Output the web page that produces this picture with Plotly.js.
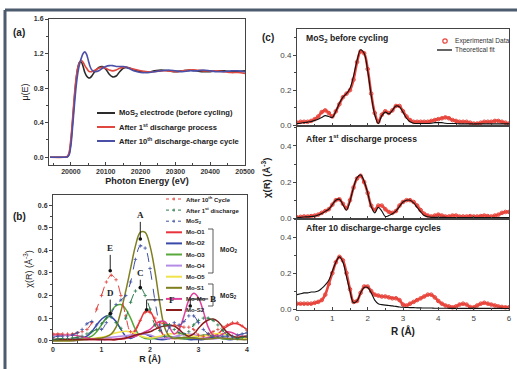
<!DOCTYPE html>
<html><head><meta charset="utf-8">
<script src="https://cdn.plot.ly/plotly-3.0.1.min.js"></script>
<style>html,body{margin:0;padding:0;background:#fff}#chart{width:517px;height:369px}</style>
</head><body><div id="chart"></div>
<script>
// ---------- Panel (a): XANES ----------
const energy = [19940,19980,19990,19995,20000,20005,20010,20015,20020,20025,20030,20035,20040,20045,20050,20055,20060,20070,20080,20090,20100,20110,20120,20130,20140,20150,20160,20170,20180,20200,20220,20240,20260,20280,20300,20320,20340,20360,20380,20400,20420,20440,20460,20480,20500];
const muMoS2 = [0,0,0.005,0.04,0.18,0.42,0.68,0.9,1.04,1.1,1.1,1.05,0.98,0.94,0.92,0.92,0.94,1.0,1.04,1.05,1.02,0.96,0.93,0.94,0.99,1.03,1.04,1.03,1.01,0.99,0.98,1.0,1.01,1.0,0.99,1.0,1.01,1.0,0.99,0.99,1.0,1.0,0.99,0.99,1.0];
const mu1st  = [0,0,0.01,0.06,0.22,0.46,0.72,0.92,1.04,1.1,1.12,1.1,1.06,1.03,1.0,0.99,0.99,1.01,1.03,1.04,1.03,1.01,1.0,1.01,1.03,1.04,1.04,1.03,1.02,1.0,0.99,0.99,1.0,1.0,0.99,1.0,1.01,1.01,1.0,1.0,1.0,0.99,0.98,0.98,0.97];
const mu10th = [0,0,0.005,0.03,0.14,0.36,0.6,0.82,0.98,1.08,1.15,1.2,1.22,1.19,1.12,1.05,1.01,0.99,1.0,1.03,1.05,1.06,1.06,1.05,1.05,1.05,1.04,1.02,1.0,0.98,0.98,0.99,1.0,1.01,1.0,0.99,1.0,1.0,1.01,1.0,0.99,0.99,1.0,1.0,0.99];
const legendA = ['MoS<sub>2</sub> electrode (before cycling)','After 1<sup>st</sup> discharge process','After 10<sup>th</sup> discharge-charge cycle'];

// ---------- R grid (panels b and c) ----------
const rGrid = [0,0.1,0.2,0.3,0.4,0.5,0.6,0.7,0.8,0.9,1.0,1.1,1.2,1.3,1.4,1.5,1.6,1.7,1.8,1.9,2.0,2.1,2.2,2.3,2.4,2.5,2.6,2.7,2.8,2.9,3.0,3.1,3.2,3.3,3.4,3.5,3.6,3.7,3.8,3.9,4.0,4.1,4.2,4.3,4.4,4.5,4.6,4.7,4.8,4.9,5.0,5.1,5.2,5.3,5.4,5.5,5.6,5.7,5.8,5.9,6.0];

// ---------- Panel (c): experimental data and fits ----------
const expMoS2 = [0.015,0.02,0.02,0.02,0.025,0.035,0.05,0.075,0.085,0.07, 0.05,0.08,0.12,0.16,0.18,0.2,0.26,0.36,0.42,0.41, 0.32,0.18,0.07,0.02,0.06,0.08,0.07,0.085,0.11,0.11, 0.08,0.05,0.03,0.02,0.02,0.02,0.02,0.02,0.025,0.03, 0.035,0.04,0.045,0.04,0.03,0.025,0.02,0.02,0.02,0.015, 0.01,0.01,0.015,0.02,0.02,0.02,0.025,0.025,0.02,0.015, 0.01];
const fitMoS2 = [0.01,0.012,0.015,0.018,0.022,0.028,0.035,0.045,0.055,0.05, 0.045,0.08,0.125,0.16,0.18,0.21,0.28,0.37,0.43,0.41, 0.31,0.17,0.06,0.01,0.055,0.075,0.065,0.085,0.11,0.105, 0.075,0.04,0.02,0.012,0.01,0.01,0.01,0.01,0.012,0.015, 0.015,0.015,0.012,0.01,0.01,0.01,0.008,0.008,0.008,0.008, 0.008,0.008,0.008,0.008,0.008,0.008,0.008,0.008,0.008,0.008, 0.008];
const exp1st = [0.005,0.008,0.01,0.01,0.012,0.015,0.02,0.03,0.04,0.05, 0.075,0.1,0.105,0.08,0.055,0.1,0.17,0.22,0.235,0.2, 0.14,0.07,0.045,0.07,0.07,0.05,0.035,0.03,0.04,0.07, 0.09,0.1,0.1,0.09,0.07,0.045,0.025,0.015,0.01,0.015, 0.02,0.015,0.01,0.01,0.015,0.015,0.01,0.01,0.01,0.012, 0.01,0.01,0.012,0.015,0.012,0.01,0.015,0.02,0.03,0.035, 0.035];
const fit1st = [0.003,0.005,0.007,0.008,0.01,0.012,0.018,0.027,0.038,0.05, 0.075,0.1,0.105,0.075,0.045,0.095,0.17,0.225,0.24,0.205, 0.14,0.065,0.03,0.06,0.04,0.01,0.015,0.025,0.04,0.065, 0.09,0.1,0.1,0.085,0.06,0.035,0.015,0.008,0.005,0.005, 0.005,0.005,0.005,0.004,0.004,0.004,0.004,0.004,0.004,0.004, 0.004,0.004,0.004,0.004,0.004,0.004,0.004,0.004,0.004,0.004, 0.004];
const exp10th = [0.03,0.03,0.03,0.03,0.03,0.035,0.04,0.05,0.08,0.14, 0.2,0.26,0.29,0.27,0.2,0.11,0.04,0.045,0.09,0.125, 0.125,0.1,0.08,0.075,0.07,0.07,0.065,0.06,0.06,0.05, 0.025,0.02,0.03,0.04,0.05,0.06,0.07,0.08,0.08,0.065, 0.045,0.03,0.02,0.015,0.01,0.015,0.025,0.03,0.025,0.012, 0.01,0.02,0.03,0.035,0.03,0.025,0.02,0.015,0.012,0.01, 0.01];
const fit10th = [0.08,0.085,0.09,0.09,0.095,0.095,0.1,0.115,0.135,0.16, 0.21,0.26,0.29,0.26,0.18,0.1,0.035,0.045,0.09,0.12, 0.12,0.09,0.05,0.03,0.025,0.022,0.02,0.018,0.015,0.012, 0.01,0.009,0.008,0.008,0.007,0.007,0.006,0.006,0.006,0.005, 0.005,0.005,0.005,0.004,0.004,0.004,0.004,0.004,0.004,0.004, 0.004,0.004,0.004,0.004,0.004,0.004,0.004,0.004,0.004,0.003, 0.003];
const panelCLabels = ['MoS<sub>2</sub> before cycling','After 1<sup>st</sup> discharge process','After 10 discharge-charge cycles'];

// ---------- Panel (b): fitting components (R = 0..4) ----------
const moO1 = [0.005,0.005,0.005,0.005,0.005,0.005,0.005,0.005,0.005,0.005, 0.005,0.005,0.005,0.005,0.008,0.01,0.02,0.05,0.09,0.13, 0.13,0.09,0.05,0.02,0.01,0.01,0.01,0.01,0.01,0.01, 0.01,0.01,0.015,0.02,0.03,0.05,0.065,0.075,0.075,0.065, 0.05];
const moO2 = [0,0,0.002,0.004,0.006,0.008,0.012,0.02,0.04,0.07, 0.095,0.11,0.105,0.085,0.05,0.02,0.01,0.02,0.03,0.03, 0.02,0.01,0.005,0.005,0.01,0.015,0.015,0.01,0.005,0.005, 0.005,0.005,0.01,0.015,0.015,0.01,0.005,0.005,0.01,0.015, 0.015];
const moO3 = [0,0,0,0,0.002,0.004,0.008,0.012,0.02,0.04, 0.07,0.1,0.13,0.155,0.16,0.14,0.1,0.05,0.02,0.01, 0.008,0.01,0.015,0.02,0.02,0.015,0.01,0.008,0.01,0.015, 0.02,0.025,0.025,0.02,0.012,0.008,0.008,0.01,0.012,0.01, 0.008];
const moO4 = [0,0,0,0,0,0.002,0.004,0.006,0.008,0.01, 0.012,0.014,0.016,0.018,0.02,0.022,0.025,0.028,0.03,0.03, 0.025,0.018,0.012,0.01,0.012,0.018,0.024,0.028,0.03,0.028, 0.022,0.015,0.01,0.008,0.01,0.012,0.012,0.01,0.008,0.006, 0.005];
const moO5 = [0,0,0,0,0.002,0.004,0.006,0.008,0.01,0.012, 0.015,0.02,0.028,0.035,0.04,0.042,0.04,0.032,0.022,0.015, 0.012,0.015,0.02,0.025,0.03,0.032,0.032,0.03,0.025,0.02, 0.018,0.02,0.025,0.03,0.032,0.03,0.025,0.02,0.015,0.012, 0.01];
const moS1 = [0,0,0,0,0,0.002,0.004,0.006,0.008,0.01, 0.012,0.018,0.03,0.06,0.13,0.22,0.32,0.42,0.48,0.48, 0.42,0.31,0.17,0.06,0.02,0.01,0.012,0.015,0.015,0.012, 0.01,0.008,0.008,0.01,0.012,0.012,0.01,0.008,0.006,0.005, 0.005];
const moMo = [0.025,0.025,0.025,0.025,0.025,0.022,0.018,0.012,0.008,0.005, 0.005,0.005,0.006,0.008,0.01,0.012,0.015,0.02,0.03,0.04, 0.05,0.07,0.085,0.085,0.06,0.03,0.05,0.11,0.18,0.21, 0.19,0.13,0.06,0.025,0.02,0.03,0.04,0.035,0.025,0.02, 0.02];
const moS2 = [0.005,0.005,0.005,0.005,0.005,0.005,0.005,0.005,0.005,0.005, 0.005,0.005,0.005,0.005,0.008,0.012,0.018,0.025,0.03,0.035, 0.04,0.05,0.06,0.065,0.068,0.065,0.05,0.03,0.02,0.03, 0.055,0.078,0.092,0.096,0.085,0.06,0.035,0.02,0.015,0.018, 0.02];
const legendB = ['After 10<sup>th</sup> Cycle','After 1<sup>st</sup> discharge','MoS<sub>2</sub>','Mo-O1','Mo-O2','Mo-O3','Mo-O4','Mo-O5','Mo-S1','Mo-Mo','Mo-S2'];

// ---------- helpers ----------
const W = 517, H = 369;
const px = v => v / W, py = v => 1 - v / H;
const shapes = [], annotations = [];
const FONT = 'Liberation Sans, Arial, sans-serif';
function pline(x0, y0, x1, y1, color, width, dash) {
  shapes.push({type:'line', xref:'paper', yref:'paper', x0:px(x0), y0:py(y0), x1:px(x1), y1:py(y1), line:{color, width, dash: dash || 'solid'}});
}
function ptext(x, y, text, size, opts) {
  annotations.push(Object.assign({xref:'paper', yref:'paper', x:px(x), y:py(y), text, showarrow:false, xanchor:'left', yanchor:'middle', font:{family:FONT, size, color:'#222'}}, opts || {}));
}

const traces = [];
// Panel a traces
const colA = ['#2b2b2b', '#e0483f', '#4a50a8'];
[muMoS2, mu1st, mu10th].forEach((ys, i) => {
  traces.push({x: energy, y: ys, xaxis:'x', yaxis:'y', mode:'lines', line:{color: colA[i], width:1.6, shape:'spline', smoothing:0.8}, hoverinfo:'skip'});
});
legendA.forEach((t, i) => {
  const yy = 113 + i * 14;
  pline(97, yy, 115, yy, colA[i], 2);
  ptext(117, yy, '<b>' + t + '</b>', 7.6);
});

// Panel b traces
const rB = rGrid.slice(0, 41);
const compCols = ['#e8323c', '#3949a8', '#58a83c', '#b48ce6', '#f0e24a', '#7f7f1f', '#e0409a', '#8b1c1c'];
const comps = [moO1, moO2, moO3, moO4, moO5, moS1, moMo, moS2];
comps.forEach((ys, i) => {
  traces.push({x: rB, y: ys, xaxis:'x2', yaxis:'y2', mode:'lines', line:{color: compCols[i], width:1.5, shape:'spline'}, hoverinfo:'skip'});
});
const dashCols = ['#e0403a', '#2a7a4a', '#3f51a0'];
[exp10th, exp1st, expMoS2].forEach((ys, i) => {
  traces.push({x: rB, y: ys.slice(0, 41), xaxis:'x2', yaxis:'y2', mode:'lines+markers', line:{color: dashCols[i], width:1, dash:'dash', shape:'spline'}, marker:{symbol:'cross-thin-open', size:2.5, line:{width:0.8, color: dashCols[i]}}, hoverinfo:'skip'});
});
const legColsB = dashCols.concat(compCols);
legendB.forEach((t, i) => {
  const yy = 199 + i * 11.1;
  if (i < 3) {
    pline(166, yy, 182, yy, legColsB[i], 1, 'dot');
    pline(174, yy - 1.5, 174, yy + 1.5, legColsB[i], 1);
  } else {
    pline(166, yy, 182, yy, legColsB[i], 2);
  }
  ptext(184, yy, '<b>' + t + '</b>', 6);
});
shapes.push({type:'path', xref:'paper', yref:'paper', path:`M${px(208)},${py(229)} L${px(213)},${py(229)} L${px(213)},${py(273)} L${px(208)},${py(273)}`, line:{color:'#333', width:0.8}});
shapes.push({type:'path', xref:'paper', yref:'paper', path:`M${px(208)},${py(284)} L${px(213)},${py(284)} L${px(213)},${py(306)} L${px(208)},${py(306)}`, line:{color:'#333', width:0.8}});
ptext(218, 250, '<b>MoO<sub>2</sub></b>', 6.5);
ptext(218, 296, '<b>MoS<sub>2</sub></b>', 6.5);

// Panel b peak markers
const peakLabels = ['A', 'E', 'C', 'D'];
const peakDotR = [1.8, 1.18, 1.8, 1.18];
const peakDotChi = [0.45, 0.31, 0.235, 0.12];
const peakTextChi = [0.556, 0.41, 0.30, 0.212];
peakLabels.forEach((t, i) => {
  annotations.push({xref:'x2', yref:'y2', x: peakDotR[i], y: peakTextChi[i], text:'<b>' + t + '</b>', showarrow:false, font:{family:'Liberation Serif, Times New Roman, serif', size:9, color:'#222'}});
  shapes.push({type:'line', xref:'x2', yref:'y2', x0: peakDotR[i], x1: peakDotR[i], y0: peakTextChi[i] - 0.03, y1: peakDotChi[i], line:{color:'#222', width:1}});
  shapes.push({type:'circle', xref:'x2', yref:'y2', xsizemode:'pixel', ysizemode:'pixel', xanchor: peakDotR[i], yanchor: peakDotChi[i], x0:-1.8, x1:1.8, y0:-1.8, y1:1.8, fillcolor:'#111', line:{width:0}});
});
[['F', 1.93, 0.137, 0.181, 2.27, 2.45], ['B', 2.83, 0.154, 0.185, 3.2, 3.3]].forEach(([t, xr, yd, yt, xend, xt]) => {
  shapes.push({type:'path', xref:'x2', yref:'y2', path:`M${xend},${yt} L${xr},${yt} L${xr},${yd}`, line:{color:'#222', width:1}});
  shapes.push({type:'circle', xref:'x2', yref:'y2', xsizemode:'pixel', ysizemode:'pixel', xanchor: xr, yanchor: yd, x0:-1.8, x1:1.8, y0:-1.8, y1:1.8, fillcolor:'#111', line:{width:0}});
  annotations.push({xref:'x2', yref:'y2', x: xt, y: yt, text:'<b>' + t + '</b>', showarrow:false, font:{family:'Liberation Serif, Times New Roman, serif', size:9, color:'#222'}});
});

// Panel c traces
const expRed = '#e8453c';
[[expMoS2, fitMoS2, 'x3', 'y3'], [exp1st, fit1st, 'x4', 'y4'], [exp10th, fit10th, 'x5', 'y5']].forEach(([e, f, xa, ya]) => {
  traces.push({x: rGrid, y: e, xaxis: xa, yaxis: ya, mode:'lines+markers', line:{color: expRed, width:2.6, shape:'spline'}, marker:{symbol:'circle-open', size:3.6, color: expRed, line:{width:1, color:'#e86a5e'}}, hoverinfo:'skip'});
  traces.push({x: rGrid, y: f, xaxis: xa, yaxis: ya, mode:'lines', line:{color:'#111', width:1.1, shape:'spline'}, hoverinfo:'skip'});
});
const cLabelY = [38, 138, 228];
panelCLabels.forEach((t, i) => ptext(304, cLabelY[i], '<b>' + t + '</b>', 8.6));
shapes.push({type:'circle', xref:'paper', yref:'paper', xsizemode:'pixel', ysizemode:'pixel', xanchor: px(445), yanchor: py(41), x0:-2.2, x1:2.2, y0:-2.2, y1:2.2, line:{color: expRed, width:1.2}});
ptext(453, 41, 'Experimental Data', 6.6, {font:{family:FONT, size:6.6, color:'#333'}});
pline(437, 50, 452, 50, '#111', 1.3);
ptext(453, 50, 'Theoretical fit', 6.6, {font:{family:FONT, size:6.6, color:'#333'}});
annotations.push({xref:'paper', yref:'paper', x: px(266), y: py(178), text:'<b>χ(R) (Å<sup>-3</sup>)</b>', textangle:-90, showarrow:false, font:{family:FONT, size:9.5, color:'#222'}});

// Panel letters
ptext(11, 32, '<b>(a)</b>', 10);
ptext(11, 216, '<b>(b)</b>', 10);
ptext(260, 37, '<b>(c)</b>', 10);

// Figure frame (top and left)
pline(5, 10, 517, 10, '#4d5b6e', 3);
pline(5, 10, 5, 369, '#4d5b6e', 3);

// ---------- axes ----------
const base = {showline:true, linecolor:'#444', linewidth:1, mirror:true, showgrid:false, zeroline:false, ticklen:3, tickcolor:'#444', tickfont:{family:FONT, size:7, color:'#333'}};
const xin = {ticks:'inside', minor:{ticks:'inside', ticklen:2, tickcolor:'#444'}};
const yout = {ticks:'outside', minor:{ticks:'outside', ticklen:2, tickcolor:'#444'}};
const boldTick = {family:FONT, size:7, color:'#333', weight:'bold'};
const layout = {
  width: W, height: H, margin:{l:0, r:0, t:0, b:0}, paper_bgcolor:'#fff', plot_bgcolor:'#fff', showlegend:false,
  font:{family:FONT, color:'#222'},
  xaxis: Object.assign({}, base, xin, {domain:[px(49), px(245)], anchor:'y', range:[19937, 20500], tick0:20000, dtick:100, tickformat:'d', minor:{ticks:'inside', ticklen:2, dtick:50, tickcolor:'#444'}, tickfont:boldTick, title:{text:'<b>Photon Energy (eV)</b>', font:{size:9}, standoff:3}}),
  yaxis: Object.assign({}, base, yout, {domain:[py(165), py(19)], anchor:'x', range:[-0.09, 1.6], tick0:0, dtick:0.4, tickformat:'.1f', minor:{ticks:'outside', ticklen:2, dtick:0.2, tickcolor:'#444'}, tickfont:boldTick, title:{text:'μ(E)', font:{size:9}, standoff:3}}),
  xaxis2: Object.assign({}, base, xin, {domain:[px(53), px(247)], anchor:'y2', range:[0, 4], dtick:1, minor:{ticks:'inside', ticklen:2, dtick:0.5, tickcolor:'#444'}, tickfont:boldTick, title:{text:'<b>R (Å)</b>', font:{size:9}, standoff:3}}),
  yaxis2: Object.assign({}, base, yout, {domain:[py(343), py(195)], anchor:'x2', range:[-0.01, 0.645], dtick:0.1, tickformat:'.1f', minor:{ticks:'outside', ticklen:2, dtick:0.05, tickcolor:'#444'}, tickfont:boldTick, title:{text:'χ(R) (Å<sup>-3</sup>)', font:{size:9}, standoff:3}}),
  xaxis3: Object.assign({}, base, xin, {domain:[px(297), px(509)], anchor:'y3', matches:'x5', showticklabels:false, dtick:1, minor:{ticks:'inside', ticklen:2, dtick:0.5, tickcolor:'#444'}}),
  yaxis3: Object.assign({}, base, yout, {domain:[py(126), py(29)], anchor:'x3', range:[-0.004, 0.548], tickvals:[0, 0.2, 0.4], ticktext:['0.0','0.2','0.4'], tickfont:{family:FONT, size:8, color:'#444'}, minor:{ticks:'outside', ticklen:2, dtick:0.1, tickcolor:'#444'}}),
  xaxis4: Object.assign({}, base, xin, {domain:[px(297), px(509)], anchor:'y4', matches:'x5', showticklabels:false, dtick:1, minor:{ticks:'inside', ticklen:2, dtick:0.5, tickcolor:'#444'}}),
  yaxis4: Object.assign({}, base, yout, {domain:[py(219), py(126)], anchor:'x4', range:[-0.004, 0.51], tickvals:[0, 0.2, 0.4], ticktext:['0.0','0.2','0.4'], tickfont:{family:FONT, size:8, color:'#444'}, minor:{ticks:'outside', ticklen:2, dtick:0.1, tickcolor:'#444'}}),
  xaxis5: Object.assign({}, base, xin, {domain:[px(297), px(509)], anchor:'y5', range:[0, 6], dtick:1, minor:{ticks:'inside', ticklen:2, dtick:0.5, tickcolor:'#444'}, tickfont:{family:FONT, size:8, color:'#444'}, title:{text:'<b>R (Å)</b>', font:{size:10}, standoff:6}}),
  yaxis5: Object.assign({}, base, yout, {domain:[py(310), py(219)], anchor:'x5', range:[-0.005, 0.5], tickvals:[0, 0.2, 0.4], ticktext:['0.0','0.2','0.4'], tickfont:{family:FONT, size:8, color:'#444'}, minor:{ticks:'outside', ticklen:2, dtick:0.1, tickcolor:'#444'}}),
  shapes, annotations
};
Plotly.newPlot('chart', traces, layout, {staticPlot:true, displayModeBar:false});
</script></body></html>
